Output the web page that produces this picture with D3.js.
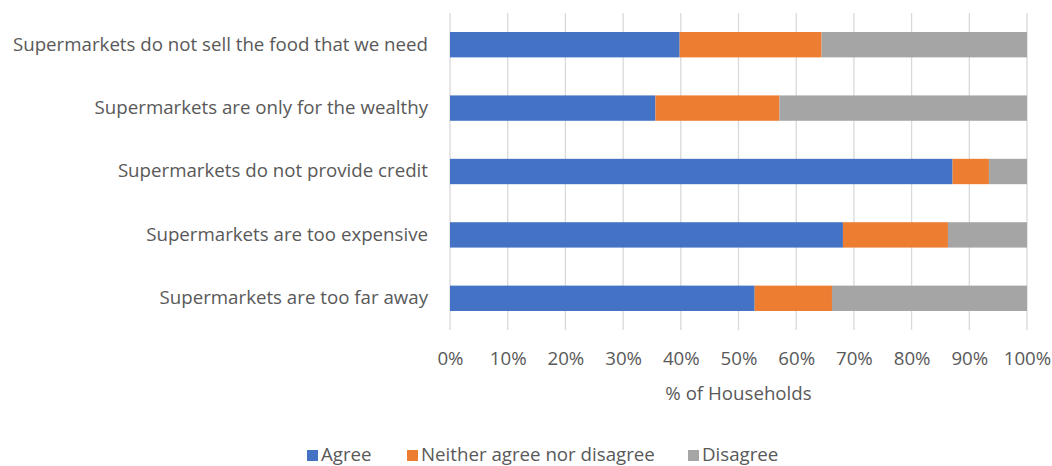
<!DOCTYPE html>
<html>
<head>
<meta charset="utf-8">
<script src="https://cdn.jsdelivr.net/npm/d3@7"></script>
<style>
  html, body { margin: 0; padding: 0; background: #fff; }
  svg { display: block; font-family: "Open Sans", Lato, sans-serif; }
</style>
</head>
<body>
<svg id="chart" width="1052" height="466"></svg>
<script>
// Survey statements (top to bottom) and share of households per answer, in %
const categories = [
  "Supermarkets do not sell the food that we need",
  "Supermarkets are only for the wealthy",
  "Supermarkets do not provide credit",
  "Supermarkets are too expensive",
  "Supermarkets are too far away"
];
const agree    = [39.8, 35.6, 87.1, 68.1, 52.8];
const neither  = [24.6, 21.5, 6.3, 18.2, 13.4];
const disagree = [35.6, 42.9, 6.6, 13.7, 33.8];
const seriesNames = ["Agree", "Neither agree nor disagree", "Disagree"];
const seriesColors = ["#4472C4", "#ED7D31", "#A5A5A5"];
const xTicks = [0, 10, 20, 30, 40, 50, 60, 70, 80, 90, 100];
const xTitle = "% of Households";

const svg = d3.select("#chart");
const textColor = "#595959";
const fontFamily = "'Open Sans', Lato, sans-serif";
const fontSize = 18.7;

const plot = { left: 450, right: 1027, top: 13, bottom: 330 };

const x = d3.scaleLinear().domain([0, 100]).range([plot.left, plot.right]);
const y = d3.scaleBand().domain(categories).range([plot.top, plot.bottom]).paddingInner(0.6).paddingOuter(0.3);

// vertical gridlines
svg.append("g")
  .selectAll("line")
  .data(xTicks)
  .join("line")
  .attr("x1", d => x(d)).attr("x2", d => x(d))
  .attr("y1", plot.top).attr("y2", plot.bottom)
  .attr("stroke", "#d9d9d9").attr("stroke-width", 1.3);

// stacked series
const rows = categories.map((c, i) => ({ cat: c, Agree: agree[i], "Neither agree nor disagree": neither[i], Disagree: disagree[i] }));
const stack = d3.stack().keys(seriesNames)(rows);

svg.append("g")
  .selectAll("g")
  .data(stack)
  .join("g")
  .attr("fill", (d, i) => seriesColors[i])
  .selectAll("rect")
  .data(d => d)
  .join("rect")
  .attr("x", d => x(d[0]))
  .attr("width", d => x(d[1]) - x(d[0]))
  .attr("y", d => y(d.data.cat))
  .attr("height", y.bandwidth());

// category labels
const yAxis = svg.append("g")
  .attr("transform", `translate(${plot.left},0)`)
  .call(d3.axisLeft(y).tickSize(0).tickPadding(22));
yAxis.select(".domain").remove();
yAxis.selectAll("text")
  .attr("fill", textColor)
  .style("font-size", fontSize + "px")
  .style("font-family", fontFamily);

// percentage axis
const xAxis = svg.append("g")
  .attr("transform", `translate(0,${plot.bottom})`)
  .call(d3.axisBottom(x).tickValues(xTicks).tickFormat(d => d + "%").tickSize(0).tickPadding(22));
xAxis.select(".domain").remove();
xAxis.selectAll("text")
  .attr("fill", textColor)
  .style("font-size", fontSize + "px")
  .style("font-family", fontFamily);

svg.append("text")
  .attr("x", (plot.left + plot.right) / 2)
  .attr("y", 400)
  .attr("text-anchor", "middle")
  .attr("fill", textColor)
  .style("font-size", fontSize + "px")
  .text(xTitle);

// legend
const legendItems = [
  { name: seriesNames[0], color: seriesColors[0], x: 307 },
  { name: seriesNames[1], color: seriesColors[1], x: 407 },
  { name: seriesNames[2], color: seriesColors[2], x: 688 }
];
const legend = svg.append("g");
legendItems.forEach(it => {
  legend.append("rect")
    .attr("x", it.x).attr("y", 450)
    .attr("width", 11).attr("height", 11)
    .attr("fill", it.color);
  legend.append("text")
    .attr("x", it.x + 14).attr("y", 461)
    .attr("fill", textColor)
    .style("font-size", fontSize + "px")
    .text(it.name);
});
</script>
</body>
</html>
